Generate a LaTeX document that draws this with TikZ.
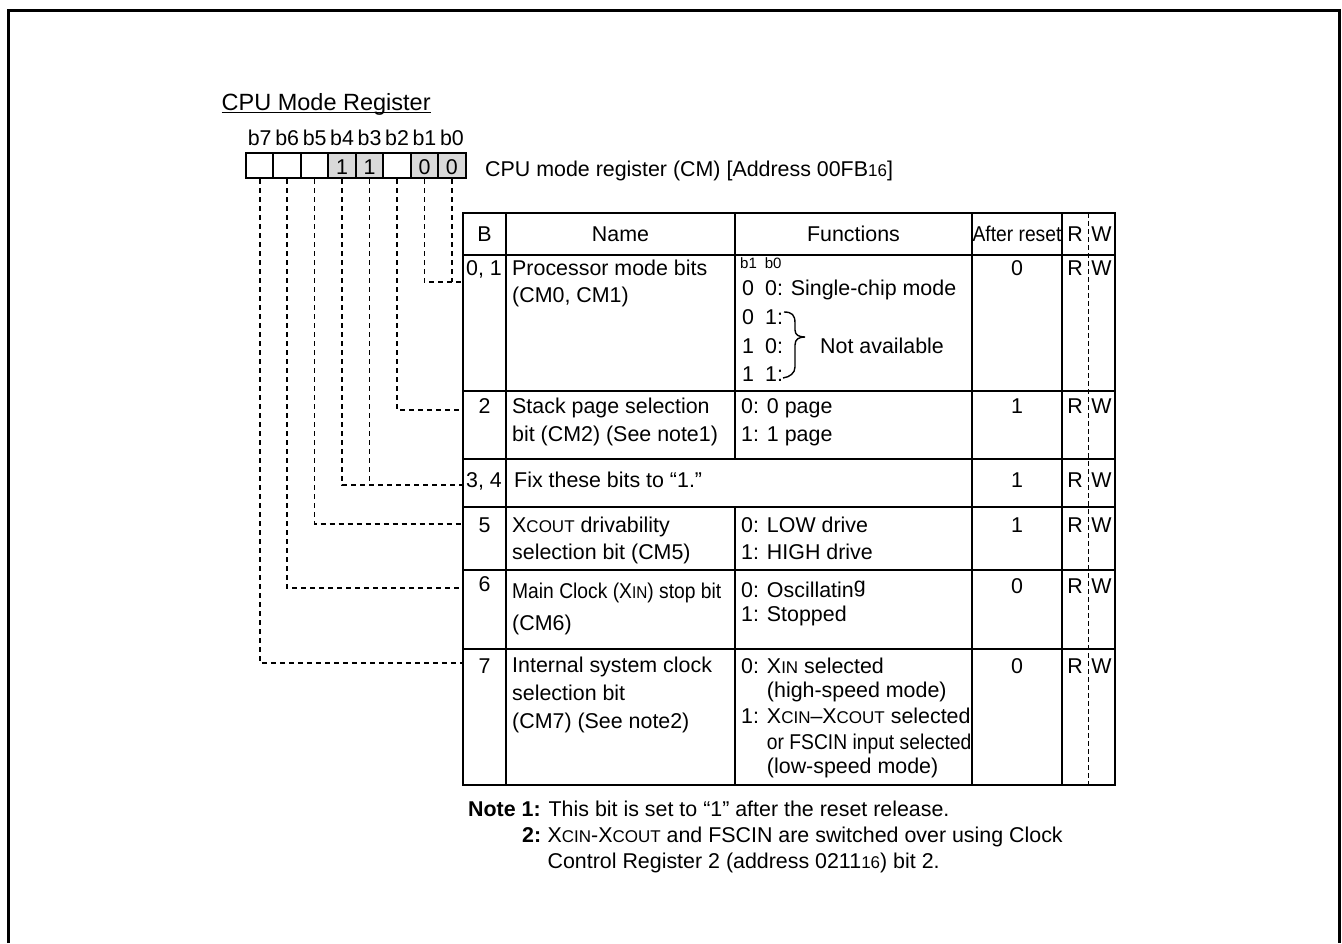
\documentclass[tikz,border=0pt]{standalone}
\usepackage{fontspec}
\setmainfont{Liberation Sans}
\usepackage{graphicx}
\usepackage{tikz}
\usetikzlibrary{positioning,calc}
\newcommand*{\smc}[1]{{\fontsize{17}{17}\selectfont #1}}
\newcommand*{\narrow}[1]{\scalebox{0.9}[1]{#1}}

\begin{document}
\begin{tikzpicture}[x=1pt,y=-1pt,font=\fontsize{21.4}{26}\selectfont,
  txt/.style={anchor=base west,inner sep=0pt},
  mid/.style={anchor=base,inner sep=0pt},
  regbox/.style={draw,line width=2pt,minimum width=27.45pt,minimum height=25pt,inner sep=0pt,text height=18pt,text depth=0pt},
  bitline/.style={line width=1.5pt,dash pattern=on 5pt off 4pt},
  rule/.style={line width=2.2pt}]
\useasboundingbox (0,0) rectangle (1342,943);
% Frame, open at the bottom
\draw[line width=2.6pt] (8.7,943) -- (8.7,10.7) -- (1339.7,10.7) -- (1339.7,943);
% Title
\node[txt,font=\fontsize{23.5}{28}\selectfont] (title) at (221.5,110.7) {CPU Mode Register};
\draw[line width=1.3pt] ($(title.base west)+(0,2)$) -- ($(title.base east)+(0,2)$);
% Register bits b0..b7, right to left
\foreach \v/\f [count=\i from 0] in {0/gray!30,0/gray!30,{}/white,1/gray!30,1/gray!30,{}/white,{}/white,{}/white} {
  \node[regbox,fill=\f] (b\i) at (451.9-27.45*\i,165.5) {\v};
  \node[above=6pt of b\i,inner sep=0pt] (lab\i) {b\i};
}
\node[txt] (cmname) at (485,176.7) {CPU mode register (CM) [Address 00FB\smc{16}]};
% Table rules
\draw[rule] (463,213) rectangle (1115,785);
\foreach \y in {255,391,459,507,570,649}
  \draw[rule] (463,\y) -- (1115,\y);
\draw[rule] (506,213) -- (506,785);
\draw[rule] (735,213) -- (735,459) (735,507) -- (735,785);
\draw[rule] (972,213) -- (972,785);
\draw[rule] (1062,213) -- (1062,785);
\draw[line width=1pt,dash pattern=on 5pt off 3pt] (1088,213) -- (1088,785);
% Dashed leaders from the bits to their rows
\foreach \r/\y in {01/282,2/410,34/485,5/524,6/588,7/663}
  \coordinate (e\r) at (463,\y);
\draw[bitline] (b1.south) |- (e01);
\draw[bitline] (b0.south) -- (b0.south |- e01);
\draw[bitline] (b2.south) |- (e2);
\draw[bitline] (b4.south) |- (e34);
\draw[bitline] (b3.south) -- (b3.south |- e34);
\draw[bitline] (b5.south) |- (e5);
\draw[bitline] (b6.south) |- (e6);
\draw[bitline] (b7.south) |- (e7);
% Header
\node[mid] (hb) at (484.5,241) {B};
\node[mid] (hname) at (620.5,241) {Name};
\node[mid] (hfunc) at (853.5,241) {Functions};
\node[mid] (hreset) at (1017,241) {\scalebox{0.9}[1]{After reset}};
\node[mid] (hr) at (1075,241) {R};
\node[mid] (hw) at (1101.5,241) {W};
% Bit numbers, reset values, R/W
\node[txt] (bit01) at (466,275) {0, 1};
\node[mid] (bit2) at (484.5,413) {2};
\node[txt] (bit34) at (466,487) {3, 4};
\node[mid] (bit5) at (484.5,532) {5};
\node[mid] (bit6) at (484.5,591) {6};
\node[mid] (bit7) at (484.5,673) {7};
\foreach \v/\y [count=\i] in {0/275,1/413,1/487,1/532,0/593,0/673} {
  \node[mid] (reset\i) at (1017,\y) {\v};
  \node[mid] (r\i) at (1075,\y) {R};
  \node[mid] (w\i) at (1101.5,\y) {W};
}
% Names
\node[txt] (name01a) at (512,275) {Processor mode bits};
\node[txt] (name01b) at (512,302) {(CM0, CM1)};
\node[txt] (name2a) at (512,413) {Stack page selection};
\node[txt] (name2b) at (512,441) {bit (CM2) (See note1)};
\node[txt] (name34) at (514,487) {Fix these bits to “1.”};
\node[txt] (name5a) at (512,532) {X\smc{COUT} drivability};
\node[txt] (name5b) at (512,559) {selection bit (CM5)};
\node[txt] (name6a) at (512,598) {\narrow{Main Clock (X\smc{IN}) stop bit}};
\node[txt] (name6b) at (512,630) {(CM6)};
\node[txt] (name7a) at (512,672) {Internal system clock};
\node[txt] (name7b) at (512,700) {selection bit};
\node[txt] (name7c) at (512,728) {(CM7) (See note2)};
% Functions
\node[txt,font=\fontsize{15}{15}\selectfont] (fn01a) at (740,268) {b1\hspace{8pt}b0};
\node[txt] (fn01b) at (742,295) {0\hspace{11pt}0: Single-chip mode};
\node[txt] (fn01c) at (742,324) {0\hspace{11pt}1:};
\node[txt] (fn01d) at (742,353) {1\hspace{11pt}0:};
\node[txt] (fn01e) at (742,381) {1\hspace{11pt}1:};
\draw[line width=1.4pt] (784,312) .. controls (792,312) and (795,315) .. (795,323) -- (795,330)
  .. controls (795,335) and (799,337) .. (805,337) .. controls (799,337) and (795,339) .. (795,345)
  -- (795,367) .. controls (795,373) and (790,377) .. (783,378);
\node[txt] (fn01f) at (820,353) {Not available};
\node[txt] (fn2a) at (741,413) {0: 0 page};
\node[txt] (fn2b) at (741,441) {1: 1 page};
\node[txt] (fn5a) at (741,532) {0: LOW drive};
\node[txt] (fn5b) at (741,559) {1: HIGH drive};
\node[txt] (fn6a) at (741,597) {0: Oscillatin\raisebox{5pt}{g}};
\node[txt] (fn6b) at (741,621) {1: Stopped};
\node[txt] (fn7a) at (741,673) {0: X\smc{IN} selected};
\node[txt] (fn7b) at (741,697) {\hphantom{0: }(high-speed mode)};
\node[txt] (fn7c) at (741,723) {1: X\smc{CIN}–X\smc{COUT} selected};
\node[txt] (fn7d) at (741,749) {\hphantom{0: }\narrow{or FSCIN input selected}};
\node[txt] (fn7e) at (741,773) {\hphantom{0: }(low-speed mode)};
% Notes
\node[txt] (note1) at (468,816) {\textbf{Note 1:} This bit is set to “1” after the reset release.};
\node[txt] (note2num) at (522,842) {\textbf{2:}};
\node[txt] (note2) at ($(note2num.base east)+(6,0)$) {X\smc{CIN}-X\smc{COUT} and FSCIN are switched over using Clock};
\node[txt] (note2b) at ($(note2.base west)+(0,26)$) {Control Register 2 (address 0211\smc{16}) bit 2.};
\end{tikzpicture}
\end{document}
